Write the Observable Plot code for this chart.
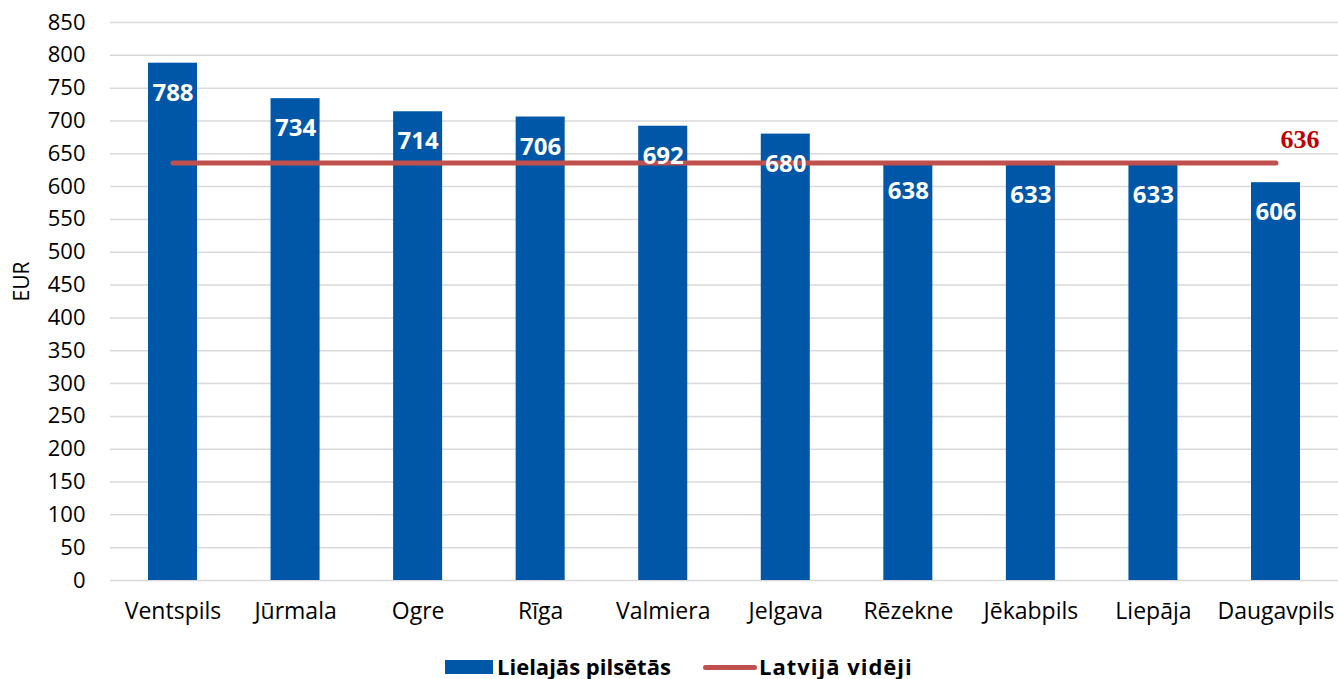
<!DOCTYPE html>
<html>
<head>
<meta charset="utf-8">
<script src="https://cdn.jsdelivr.net/npm/d3@7"></script>
<script src="https://cdn.jsdelivr.net/npm/@observablehq/plot@0.6"></script>
<style>
  body { margin: 0; background: #fff; font-family: "Open Sans", sans-serif; }
  #legend { position: relative; height: 39px; font-family: "Open Sans", sans-serif; font-weight: bold; font-size: 22px; color: #000; }
  #legend > * { position: absolute; }
</style>
</head>
<body>
<div id="chart"></div>
<div id="legend">
  <span style="left:445px;top:20px;width:48px;height:14px;background:#0057A8"></span>
  <span style="left:497px;top:14px;line-height:25px;">Lielajās pilsētās</span>
  <span style="left:703px;top:25px;width:54px;height:5px;border-radius:3px;background:#C0504D"></span>
  <span style="left:759px;top:14px;line-height:25px;letter-spacing:1px;">Latvijā vidēji</span>
</div>
<script>
const cities = ["Ventspils", "Jūrmala", "Ogre", "Rīga", "Valmiera", "Jelgava", "Rēzekne", "Jēkabpils", "Liepāja", "Daugavpils"];
const values = [788, 734, 714, 706, 692, 680, 638, 633, 633, 606];
const average = 636;
const yTicks = d3.range(0, 851, 50);

const data = cities.map((c, i) => ({ city: c, value: values[i] }));
const avgData = cities.map(c => ({ city: c, value: average }));

const chart = Plot.plot({
  width: 1338,
  height: 640,
  marginTop: 22,
  marginBottom: 60,
  marginLeft: 110,
  marginRight: 0,
  style: { fontFamily: "'Open Sans', sans-serif", fontSize: "22px", color: "#000", background: "#fff" },
  x: { domain: cities, paddingInner: 0.6, paddingOuter: 0.31, round: false, label: null, tickSize: 0, tickPadding: 22 },
  y: { domain: [0, 850], ticks: yTicks, label: null, tickSize: 0, tickPadding: 25 },
  marks: [
    Plot.ruleY(yTicks, { stroke: "#d9d9d9", strokeWidth: 1.5 }),
    Plot.barY(data, { x: "city", y: "value", fill: "#0057A8", inset: 0 }),
    Plot.line(avgData, { x: "city", y: "value", stroke: "#C0504D", strokeWidth: 5, strokeLinecap: "round" }),
    Plot.text(data, { x: "city", y: "value", text: d => String(d.value), dy: 30, fill: "white", fontWeight: "bold", fontSize: 24, fontFamily: "'Open Sans', sans-serif" }),
    Plot.text([average], { x: () => cities[cities.length - 1], y: d => d, text: d => String(d), dx: 24, dy: -23, fill: "#C00000", fontWeight: "bold", fontSize: 26, fontFamily: "'Liberation Serif', serif" }),
    Plot.text(["EUR"], { frameAnchor: "left", dx: -88, rotate: -90, text: d => d, fontSize: 21 }),
    Plot.axisY({ ticks: yTicks, tickSize: 0, tickPadding: 25, fontSize: 22 }),
    Plot.axisX({ tickSize: 0, tickPadding: 22, fontSize: 23 })
  ]
});
document.getElementById("chart").appendChild(chart);
</script>
</body>
</html>
